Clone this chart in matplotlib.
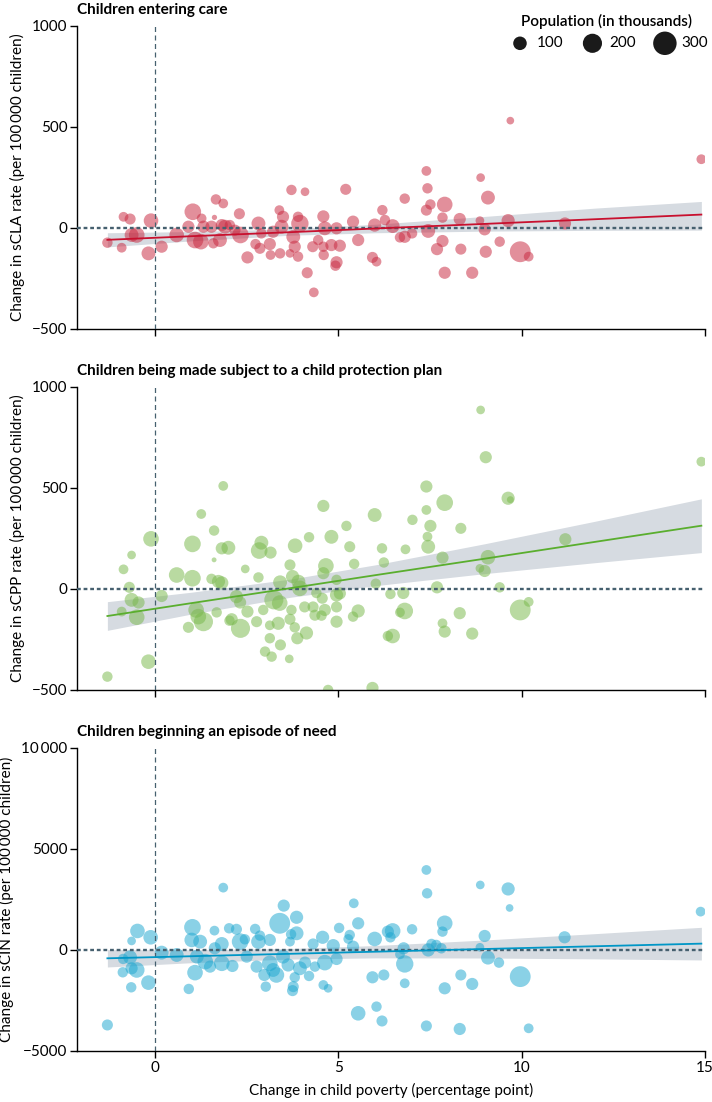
import numpy as np
import matplotlib.pyplot as plt
from matplotlib import font_manager

# -------- Fonts --------
names = {f.name for f in font_manager.fontManager.ttflist}
main_font = 'Liberation Sans Narrow' if 'Liberation Sans Narrow' in names else 'Lato'
plt.rcParams['font.family'] = [main_font, 'DejaVu Sans']

# -------- Data --------
# Children entering care (sCLA)
cla_x = [-1.30, -0.91, -0.86, -0.68, -0.64, -0.50, -0.18, -0.11, 0.18, 0.59, 1.03, 0.91, 1.09, 1.25, 1.27,
         1.32, 1.66, 1.86, 1.62, 1.59, 1.54, 1.77, 1.82, 1.91, 2.04, 2.30, 2.18, 2.33, 2.52, 2.74,
         2.82, 2.86, 2.90, 3.13, 3.15, 3.22, 3.39, 3.41, 3.49, 3.45, 3.72, 4.09, 3.90, 3.95, 3.77,
         3.81, 3.68, 3.90, 4.15, 4.33, 4.30, 4.45, 4.59, 4.63, 4.59, 4.60, 4.81, 4.95, 5.04, 4.95,
         4.92, 5.20, 5.40, 5.54, 5.93, 6.04, 5.99, 6.20, 6.27, 6.48, 6.68, 6.81, 6.81, 7.01, 7.40,
         7.43, 7.40, 7.51, 7.45, 7.90, 7.84, 7.84, 7.69, 7.90, 8.31, 8.34, 8.65, 8.88, 9.08, 8.86,
         8.99, 9.02, 9.40, 9.63, 9.69, 9.96, 10.19, 11.18, 14.90]
cla_y = [-74, -99, 54, 43, -36, -36, -127, 35, -94, -36, 79, 5, -61, -69, 46,
         5, 140, 120, 51, -77, 5, -61, 13, 5, 13, 69, -12, -36, -147, -81,
         21, -102, -28, -81, -135, -20, 87, -127, 54, 5, 187, 178, 54, 21, -45,
         -94, -127, -143, -223, -320, -94, -61, 56, -3, -94, -135, -86, -3, -89, -171,
         -188, 190, 30, -61, -147, -168, 13, 87, 38, 8, -48, -45, 144, -28, 281,
         195, 87, 115, -16, 115, 50, -66, -106, -223, 43, -106, -223, 248, 149, 35,
         -8, -119, -69, 35, 530, -119, -143, 21, 339]
cla_pop = [59, 52, 52, 67, 105, 133, 105, 116, 81, 116, 151, 81, 151, 133, 52,
           81, 59, 52, 15, 59, 81, 105, 81, 105, 59, 67, 67, 151, 81, 59,
           105, 67, 59, 81, 52, 81, 52, 59, 81, 105, 59, 41, 59, 164, 105,
           81, 41, 59, 67, 52, 67, 59, 81, 105, 59, 59, 81, 81, 81, 81,
           59, 67, 81, 81, 67, 52, 95, 59, 59, 105, 59, 81, 59, 59, 52,
           59, 67, 59, 105, 133, 59, 81, 81, 81, 81, 67, 81, 41, 105, 41,
           81, 81, 59, 95, 32, 237, 52, 81, 52]

# Children being made subject to a child protection plan (sCPP)
cpp_x = [-1.30, -0.86, -0.64, -0.70, -0.91, -0.64, -0.45, -0.50, -0.18, -0.11, 0.18, 0.59, 1.02, 1.02, 1.26,
         1.61, 1.86, 1.82, 2.00, 1.61, 1.54, 1.73, 1.82, 1.12, 1.18, 1.32, 0.91, 1.68, 2.09, 2.03,
         2.33, 2.22, 2.32, 2.52, 2.46, 2.82, 2.90, 2.84, 3.15, 2.77, 2.95, 3.13, 3.13, 3.00, 3.18,
         3.42, 3.66, 3.24, 3.40, 3.36, 3.41, 3.68, 3.82, 3.75, 3.91, 3.95, 3.72, 3.68, 3.81, 3.88,
         4.13, 4.20, 4.08, 4.31, 4.36, 4.40, 4.59, 4.81, 4.66, 4.59, 4.56, 4.63, 4.54, 4.95, 4.95,
         5.04, 4.95, 4.95, 5.22, 5.31, 5.43, 5.54, 5.40, 5.99, 6.19, 6.24, 6.02, 6.35, 4.72, 5.93,
         6.42, 6.77, 6.81, 6.68, 6.48, 6.83, 7.02, 7.40, 7.40, 7.51, 7.43, 7.45, 7.90, 7.84, 7.69,
         7.84, 7.90, 8.34, 8.31, 8.65, 8.88, 9.02, 9.08, 8.86, 8.99, 9.40, 9.63, 9.69, 9.96, 10.19,
         11.19, 14.90]
cpp_y = [-434, 97, 168, 8, -112, -54, -67, -140, -360, 248, -35, 69, 53, 223, 371,
         289, 510, 201, 204, 144, 50, 37, 30, -104, -137, -162, -190, -116, -150, -157,
         -195, -38, -67, -112, 99, 57, 229, 190, 180, -162, -104, -180, -244, -310, -335,
         -277, -346, -54, -70, -170, 33, 119, 214, 61, 36, 3, -104, -150, -190, -244,
         -218, 256, -89, -89, -130, -20, 411, 258, 114, 78, -46, -104, -132, 45, -30,
         -22, -89, -162, 312, 209, 124, -109, -137, 366, 201, 131, 26, -233, -500, -490,
         -25, -20, -109, -116, -233, 196, 342, 507, 391, 312, 259, 209, 427, 155, 8,
         -170, -211, 300, -120, -221, 886, 652, 157, 102, 89, 8, 449, 442, -104, -64,
         246, 630]
cpp_pop = [59, 52, 41, 67, 52, 105, 81, 133, 116, 133, 81, 133, 151, 151, 52,
           59, 52, 81, 105, 13, 59, 95, 95, 133, 133, 199, 67, 59, 81, 59,
           199, 95, 81, 81, 41, 59, 105, 151, 81, 67, 59, 52, 59, 59, 59,
           67, 41, 199, 133, 95, 105, 67, 116, 95, 105, 133, 59, 67, 59, 81,
           95, 59, 67, 67, 67, 59, 81, 105, 133, 81, 67, 81, 59, 59, 95,
           81, 67, 81, 59, 67, 59, 95, 59, 105, 59, 59, 59, 59, 59, 81,
           59, 81, 151, 52, 116, 52, 59, 81, 52, 81, 52, 105, 151, 81, 81,
           52, 81, 67, 81, 81, 41, 81, 116, 41, 81, 59, 95, 26, 237, 52,
           81, 52]

# Children beginning an episode of need (sCIN)
cin_x = [-1.30, -0.87, -0.88, -0.64, -0.48, -0.64, -0.50, -0.65, -0.68, -0.18, -0.12, 0.18, 0.59, 0.92, 1.02,
         1.00, 1.23, 1.09, 1.14, 1.37, 1.50, 1.62, 1.63, 1.82, 1.82, 1.86, 2.02, 2.11, 2.22, 2.32,
         2.45, 2.50, 2.73, 2.77, 2.82, 2.86, 2.98, 3.02, 3.13, 3.13, 3.22, 3.31, 3.40, 3.51, 3.49,
         3.63, 3.68, 3.71, 3.86, 3.86, 3.81, 3.77, 3.75, 3.95, 4.09, 4.20, 4.36, 4.31, 4.57, 4.59,
         4.72, 4.63, 4.86, 4.95, 5.02, 5.27, 5.31, 5.42, 5.54, 5.54, 5.93, 5.99, 6.04, 6.19, 6.24,
         6.35, 5.40, 6.48, 6.42, 6.68, 6.78, 6.81, 6.81, 7.01, 7.40, 7.42, 7.45, 7.54, 7.40, 7.67,
         7.81, 7.90, 7.84, 7.90, 8.31, 8.34, 8.65, 8.87, 8.99, 8.86, 9.08, 9.38, 9.63, 9.67, 9.96,
         10.19, 11.17, 14.88]
cin_y = [-3713, -446, -1105, 446, 941, -908, -990, -1848, -363, -1617, 627, -132, -248, -1930, 1122,
         495, 412, -1122, -330, -578, -825, 957, 82, 297, -660, 3085, 1073, -792, 1023, 412,
         528, -330, 1040, -825, 412, 709, -1238, -1815, 495, -660, -990, -1238, 1320, 2195, -330,
         -743, 412, 776, 1617, 825, -1353, -1815, -2013, -908, -627, -1287, -825, 297, 627, -1733,
         -1898, -627, 214, -446, 1089, 545, 742, 2310, 1320, -3135, -1353, 545, -2805, -3515, -1238,
         908, 165, 941, 627, -214, 82, -693, -1650, 1023, 3960, 2805, 0, 297, -3762, 248,
         82, 1320, 908, -1898, -3911, -1238, -1683, 3218, 693, 132, -380, -627, 3020, 2079, -1320,
         -3878, 627, 1898]
cin_pop = [67, 59, 59, 41, 116, 81, 133, 59, 105, 116, 116, 105, 105, 59, 151,
           116, 105, 133, 105, 133, 81, 52, 81, 105, 133, 52, 59, 81, 67, 151,
           59, 81, 59, 81, 116, 59, 81, 59, 81, 133, 105, 133, 237, 81, 105,
           95, 52, 59, 95, 105, 59, 67, 67, 105, 81, 59, 59, 67, 95, 52,
           41, 133, 95, 81, 59, 52, 59, 52, 81, 116, 81, 116, 59, 67, 67,
           81, 81, 133, 59, 52, 81, 164, 52, 59, 52, 59, 95, 59, 67, 59,
           59, 133, 59, 81, 81, 67, 81, 41, 81, 41, 105, 59, 95, 32, 237,
           52, 81, 52]

# Fitted lines and 95% bands
fit_x = [-1.3, 1, 3.7, 6, 9, 12, 14.9]
cla_fit = [-60, -42, -22, -4, 19, 42, 65]
cla_lo = [-95, -65, -37, -25, -17, -13, -12]
cla_hi = [-25, -19, -6, 17, 56, 97, 130]
cpp_fit = [-134, -70, 4, 68, 150, 233, 313]
cpp_lo = [-205, -124, -41, 16, 76, 130, 180]
cpp_hi = [-63, -16, 49, 119, 224, 335, 446]
cin_fit = [-413, -310, -189, -86, 48, 183, 313]
cin_lo = [-843, -630, -450, -391, -398, -441, -495]
cin_hi = [17, 10, 72, 219, 494, 807, 1121]

legend_pop = [100, 200, 300]


def size(pop):
    # marker area proportional to population
    return 0.95 * np.asarray(pop, dtype=float)


# -------- Figure --------
fig = plt.figure(figsize=(7.12, 11.02), dpi=100)

panels = [
    dict(x=cla_x, y=cla_y, pop=cla_pop, fit=cla_fit, lo=cla_lo, hi=cla_hi,
         dot='#C8283F', line='#C8102E', title='Children entering care',
         ylabel='Change in sCLA rate (per 100\u2009000 children)',
         ylim=(-500, 1000), yticks=[-500, 0, 500, 1000],
         ylabels=['\u2212500', '0', '500', '1000'], bottom=0.7017),
    dict(x=cpp_x, y=cpp_y, pop=cpp_pop, fit=cpp_fit, lo=cpp_lo, hi=cpp_hi,
         dot='#79B84C', line='#5AAE2E', title='Children being made subject to a child protection plan',
         ylabel='Change in sCPP rate (per 100\u2009000 children)',
         ylim=(-500, 1000), yticks=[-500, 0, 500, 1000],
         ylabels=['\u2212500', '0', '500', '1000'], bottom=0.3739),
    dict(x=cin_x, y=cin_y, pop=cin_pop, fit=cin_fit, lo=cin_lo, hi=cin_hi,
         dot='#1FA7D0', line='#0096C6', title='Children beginning an episode of need',
         ylabel='Change in sCIN rate (per 100\u2009000 children)',
         ylim=(-5000, 10000), yticks=[-5000, 0, 5000, 10000],
         ylabels=['\u22125000', '0', '5000', '10\u2009000'], bottom=0.0463),
]

ref_col = '#46606F'
axes = []
for i, p in enumerate(panels):
    ax = fig.add_axes([0.1086, p['bottom'], 0.8816, 0.2750])
    axes.append(ax)

    ax.fill_between(fit_x, p['lo'], p['hi'], color='#D6DBE1', lw=0, zorder=1)
    ax.scatter(p['x'], p['y'], s=size(p['pop']), color=p['dot'], alpha=0.52,
               edgecolors='none', zorder=2)
    ax.axhline(0, color=ref_col, lw=1.7, ls=(0, (1.6, 1.2)), zorder=3)
    ax.axvline(0, color=ref_col, lw=0.9, ls=(0, (4, 2.8)), zorder=3)
    ax.plot(fit_x, p['fit'], color=p['line'], lw=1.3, zorder=4)

    ax.set_xlim(-2.12, 15)
    ax.set_ylim(*p['ylim'])
    ax.set_yticks(p['yticks'])
    ax.set_yticklabels(p['ylabels'])
    ax.set_xticks([0, 5, 10, 15])
    if i < 2:
        ax.set_xticklabels([])
    else:
        ax.set_xlabel('Change in child poverty (percentage point)', fontsize=11, labelpad=6)

    for side in ['top', 'right']:
        ax.spines[side].set_visible(False)
    for side in ['left', 'bottom']:
        ax.spines[side].set_linewidth(1.0)
    ax.tick_params(direction='out', length=5, width=1.0, labelsize=11, pad=2)
    ax.set_ylabel(p['ylabel'], fontsize=11, labelpad=5)
    ax.text(0, 1.053, p['title'], transform=ax.transAxes, ha='left', va='center',
            fontsize=11, fontweight='bold')

# Legend for bubble size
handles = [axes[0].scatter([], [], s=size(v), color='#1a1a1a', edgecolors='none', label=str(v))
           for v in legend_pop]
leg = axes[0].legend(handles=handles, title='Population (in thousands)', ncol=3, frameon=False,
                     loc='upper right', bbox_to_anchor=(1.015, 1.06), fontsize=11, title_fontsize=11,
                     handletextpad=0.1, columnspacing=0.9, borderaxespad=0)
leg.get_title().set_fontweight('semibold')

fig.savefig('out.png', dpi=100)
